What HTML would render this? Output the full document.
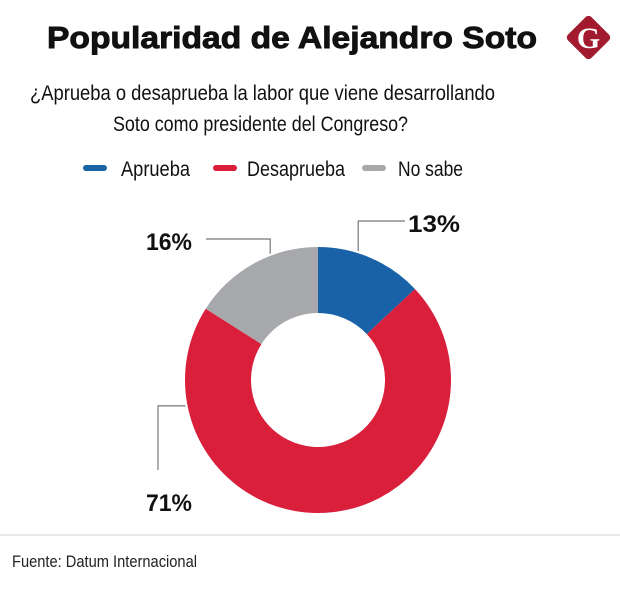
<!DOCTYPE html>
<html><head><meta charset="utf-8"><style>
body{margin:0;background:#fff}
svg{display:block;font-family:"Liberation Sans Narrow","Liberation Sans",sans-serif}
</style></head><body>
<svg id="chart" width="620" height="590" viewBox="0 0 620 590">
<text x="47" y="48" font-size="31" font-weight="bold" fill="#111" stroke="#111" stroke-width="0.9" textLength="490" lengthAdjust="spacingAndGlyphs">Popularidad de Alejandro Soto</text>
<g>
<rect x="572" y="21" width="33" height="33" rx="4" fill="#a11a2e" transform="rotate(45 588.5 37.5)"/>
<text x="588.5" y="48" font-size="30" font-weight="bold" fill="#fff" text-anchor="middle" font-family="Liberation Serif,serif">G</text>
</g>
<text x="30" y="100" font-size="21" fill="#111" textLength="465" lengthAdjust="spacingAndGlyphs">¿Aprueba o desaprueba la labor que viene desarrollando</text>
<text x="113" y="131" font-size="21" fill="#111" textLength="295" lengthAdjust="spacingAndGlyphs">Soto como  presidente del Congreso?</text>
<g id="legend"></g>
<g id="slices"></g>
<g id="labels"></g>
<line x1="0" y1="535" x2="620" y2="535" stroke="#e2e2e2" stroke-width="1.5"/>
<text x="12" y="567" font-size="17" fill="#222" textLength="185" lengthAdjust="spacingAndGlyphs">Fuente: Datum Internacional</text>
</svg>
<script>
const categories=["Aprueba","Desaprueba","No sabe"];
const values=[13,71,16];
const valueLabels=["13%","71%","16%"];
const colors=["#1a62a7","#d91f3a","#a7a8ab"];
const NS="http://www.w3.org/2000/svg";
const cx=318,cy=380,R=133,r=67;
function mk(t,a,p){const e=document.createElementNS(NS,t);for(const k in a)e.setAttribute(k,a[k]);p.appendChild(e);return e;}
const total=values.reduce((a,b)=>a+b,0);
function pt(ang,rad){return [cx+rad*Math.sin(ang),cy-rad*Math.cos(ang)];}
let start=0;
const sl=document.getElementById('slices');
const mids=[];
values.forEach((v,i)=>{
  const end=start+v/total*2*Math.PI;
  const large=(end-start)>Math.PI?1:0;
  const [x1,y1]=pt(start,R),[x2,y2]=pt(end,R),[x3,y3]=pt(end,r),[x4,y4]=pt(start,r);
  const p=mk('path',{d:`M${x1},${y1}A${R},${R} 0 ${large} 1 ${x2},${y2}L${x3},${y3}A${r},${r} 0 ${large} 0 ${x4},${y4}Z`,fill:colors[i]},sl);
  
  
  mids.push([start,end]);
  start=end;
});
const lb=document.getElementById('labels');
const leaderAng=[mids[0][0]+(mids[0][1]-mids[0][0])*0.37, mids[1][0]+(mids[1][1]-mids[1][0])*0.83, mids[2][0]+(mids[2][1]-mids[2][0])*0.64];
const anchors=[[405,221,408,232],[158,470,146,511],[206,239,146,250]];
values.forEach((v,i)=>{
  const [px,py]=pt(leaderAng[i],R+2);
  const [ax,ay,tx,ty]=anchors[i];
  let d;
  if(i===1) d=`M${px},${py}H${ax}V${ay}`; else d=`M${px},${py}V${ay}H${ax}`;
  const l=mk('path',{d:d,fill:"none",stroke:"#777","stroke-width":1.2},lb);
  
  
  const t=mk('text',{x:tx,y:ty,"font-size":24,"font-weight":"bold",fill:"#111",textLength:i===0?52:46,lengthAdjust:"spacingAndGlyphs"},lb);
  t.textContent=valueLabels[i];
  
  
});
const lg=document.getElementById('legend');
const legPos=[[83,121,69],[213,247,98],[362,398,65]];
categories.forEach((c,i)=>{
  const [mx,tx,tw]=legPos[i];
  const m=mk('line',{x1:mx+3,y1:168,x2:mx+21,y2:168,stroke:colors[i],"stroke-width":6,"stroke-linecap":"round"},lg);
  
  
  const t=mk('text',{x:tx,y:176,"font-size":21,fill:"#111",textLength:tw,lengthAdjust:"spacingAndGlyphs"},lg);
  t.textContent=c;
  
  
});
</script>
</body></html>
